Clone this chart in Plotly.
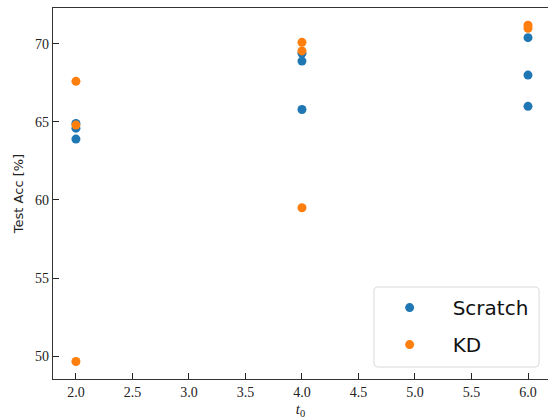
import plotly.graph_objects as go

# Data
scratch_t0 = [2, 2, 2, 4, 4, 4, 6, 6, 6]
scratch_acc = [64.9, 64.6, 63.9, 69.4, 68.9, 65.8, 70.4, 68.0, 66.0]
kd_t0 = [2, 2, 2, 4, 4, 4, 6, 6]
kd_acc = [67.6, 64.8, 49.65, 70.1, 69.55, 59.5, 71.2, 71.0]

x_ticks = [2.0, 2.5, 3.0, 3.5, 4.0, 4.5, 5.0, 5.5, 6.0]
y_ticks = [50, 55, 60, 65, 70]

fig = go.Figure()
fig.add_trace(go.Scatter(x=scratch_t0, y=scratch_acc, mode="markers", name="Scratch",
                         legendgroup="a",
                         marker=dict(color="#1f77b4", size=9, line=dict(width=0))))
fig.add_trace(go.Scatter(x=kd_t0, y=kd_acc, mode="markers", name="KD",
                         legendgroup="b",
                         marker=dict(color="#ff7f0e", size=9, line=dict(width=0))))

axis_common = dict(showline=True, linecolor="#333333", linewidth=1.2, ticks="inside",
                   ticklen=6, tickwidth=1, tickcolor="#222222", showgrid=False, zeroline=False,
                   tickfont=dict(family="Liberation Serif", size=14, color="#222222"))

fig.update_layout(
    width=548, height=419,
    margin=dict(l=53, r=0, t=8, b=40),
    paper_bgcolor="white", plot_bgcolor="white",
    xaxis=dict(range=[1.797, 6.177], tickvals=x_ticks, ticktext=[f"{v:.1f}" for v in x_ticks],
               mirror=True,
               title=dict(text="<i>t</i><sub>0</sub>", standoff=4,
                          font=dict(family="Liberation Serif", size=15, color="#222222")),
               **axis_common),
    yaxis=dict(range=[48.53, 72.3], tickvals=y_ticks, ticktext=[str(v) for v in y_ticks],
               title=dict(text="Test Acc [%]", standoff=8,
                          font=dict(family="DejaVu Sans", size=13, color="#222222")),
               **axis_common),
    legend=dict(x=0.6336, y=0.245, xanchor="left", yanchor="top",
                bgcolor="rgba(0,0,0,0)", borderwidth=0,
                font=dict(family="DejaVu Sans", size=20, color="#111111"),
                traceorder="grouped", tracegroupgap=8, itemwidth=76),
    shapes=[dict(type="path", xref="paper", yref="paper",
                 path="M 0.656,0.0323 L 0.974,0.0323 Q 0.982,0.0323 0.982,0.043 L 0.982,0.237 Q 0.982,0.248 0.974,0.248 L 0.656,0.248 Q 0.6485,0.248 0.6485,0.237 L 0.6485,0.043 Q 0.6485,0.0323 0.656,0.0323 Z",
                 line=dict(color="#d9d9d9", width=1), fillcolor="rgba(255,255,255,0.8)", layer="above")],
)

fig.write_html("out.html")
